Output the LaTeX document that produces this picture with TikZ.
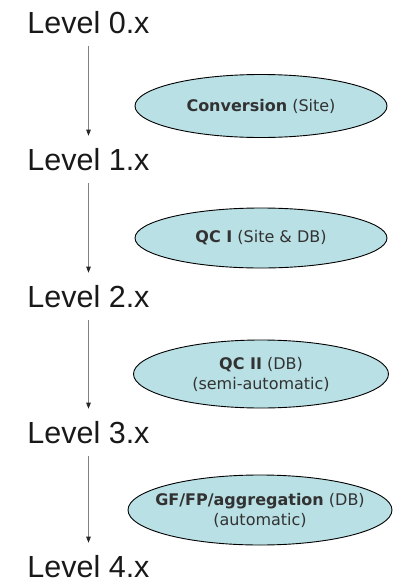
\documentclass[tikz,border=0pt]{standalone}
\usepackage{fontspec}
\setmainfont{Liberation Sans}
\newfontfamily\boxfont{DejaVu Sans}
\usepackage{tikz}
\usetikzlibrary{shapes.geometric,arrows.meta}
\definecolor{stepfill}{RGB}{185,224,229}
\definecolor{steptext}{RGB}{50,50,50}

\begin{document}
\begin{tikzpicture}[x=1pt,y=-1pt,
  level/.style={anchor=base,inner sep=0pt,text depth=0pt,font=\fontsize{30.5}{32}\selectfont,text=black!90},
  stepbox/.style={ellipse,draw=black,line width=0.9pt,fill=stepfill,inner xsep=-40pt,inner ysep=-8pt,
    align=center,text=steptext,font=\boxfont\fontsize{16}{20}\selectfont},
  flow/.style={draw=black!50,line width=0.8pt,-{Triangle[length=6pt,width=4.5pt,color=black!85]},
    shorten <=13pt,shorten >=12pt}]
\useasboundingbox (0,0) rectangle (395,582);
\node[level] (l0) at (88.5,33) {Level 0.x};
\node[level] (l1) at (88.5,170) {Level 1.x};
\node[level] (l2) at (88.5,307) {Level 2.x};
\node[level] (l3) at (88.5,443) {Level 3.x};
\node[level] (l4) at (88.5,577) {Level 4.x};
\draw[flow] (l0) -- (l1);
\draw[flow] (l1) -- (l2);
\draw[flow] (l2) -- (l3);
\draw[flow] (l3) -- (l4);
\node[stepbox,minimum width=252pt,minimum height=63pt] (conv) at (261,106) {\textbf{Conversion} (Site)};
\node[stepbox,minimum width=252pt,minimum height=60pt] (qc1) at (261,238) {\textbf{QC I} (Site \& DB)};
\node[stepbox,minimum width=255pt,minimum height=68pt] (qc2) at (261,374) {\textbf{QC II} (DB)\\(semi-automatic)};
\node[stepbox,minimum width=264pt,minimum height=70pt] (gf) at (260,510) {\textbf{GF/FP/aggregation} (DB)\\(automatic)};
\end{tikzpicture}
\end{document}
